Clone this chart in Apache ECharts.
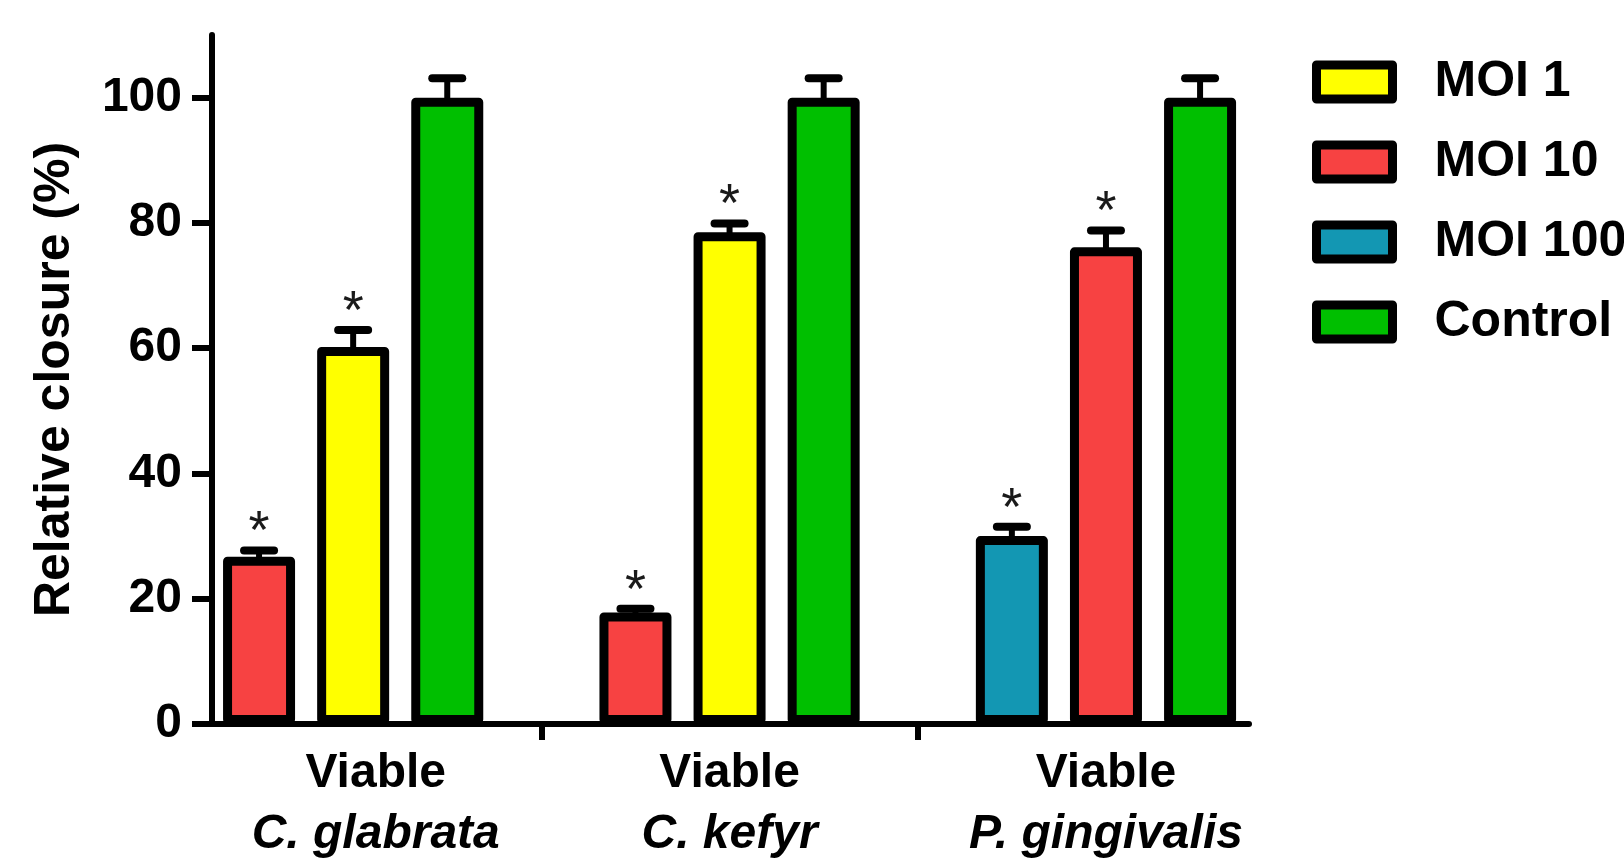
<!DOCTYPE html>
<html>
<head>
<meta charset="utf-8">
<title>Relative closure</title>
<script src="https://cdn.jsdelivr.net/npm/echarts@6/dist/echarts.min.js"></script>
<style>
  html, body { margin: 0; padding: 0; background: #ffffff; }
  #chart { width: 1624px; height: 865px; }
</style>
</head>
<body>
<div id="chart"></div>
<script>
// Strains on the x axis (one group of three bars each)
const groups = ['C. glabrata', 'C. kefyr', 'P. gingivalis'];
const groupPrefix = 'Viable';

// Legend entries and their fills
const conditions = ['MOI 1', 'MOI 10', 'MOI 100', 'Control'];
const conditionColors = ['#FFFF00', '#F74242', '#1397B3', '#00BF00'];

// Bars in drawing order, left to right
const barGroup     = [0, 0, 0, 1, 1, 1, 2, 2, 2];
const barCondition = ['MOI 10', 'MOI 1', 'Control',
                      'MOI 10', 'MOI 1', 'Control',
                      'MOI 100', 'MOI 10', 'Control'];
const barMean = [26.7, 60.2, 100, 17.8, 78.5, 100, 30.0, 76.1, 100];
const barSem  = [1.0, 2.7, 3.1, 0.6, 1.4, 3.1, 1.5, 2.7, 3.1];
const barStar = [1, 1, 0, 1, 1, 0, 1, 1, 0];

// Y axis ticks
const yTicks = [0, 20, 40, 60, 80, 100];

const FONT = '"Liberation Sans", Arial, Helvetica, sans-serif';

// Each group takes four slots on the x axis: three bars and a gap.
const slotsPerGroup = 4;
const barX = barGroup.map((g, i) => {
  const slot = barGroup.slice(0, i).filter(v => v === g).length;
  return g * slotsPerGroup + slot + 1;
});
const groupDividers = groups.slice(1).map((_, g) => (g + 1) * slotsPerGroup);
const groupLabelX = [2.24, 6, 10];

const barSeries = conditions.map((name, ci) => ({
  name: name,
  type: 'bar',
  barWidth: 72,
  barGap: '-100%',
  itemStyle: {
    color: conditionColors[ci],
    borderColor: '#000000',
    borderWidth: 9,
    borderJoin: 'round'
  },
  emphasis: { disabled: true },
  z: 2,
  data: barCondition
    .map((c, i) => (c === name ? [barX[i], barMean[i]] : null))
    .filter(d => d !== null)
}));

// Upper SEM whiskers with their significance marks
const errorSeries = {
  name: 'SEM',
  type: 'custom',
  z: 3,
  data: barMean.map((m, i) => [barX[i], m, barSem[i], barStar[i]]),
  encode: { x: 0, y: 1 },
  renderItem: function (params, api) {
    const x = api.value(0);
    const m = api.value(1);
    const e = api.value(2);
    const star = api.value(3);
    const base = api.coord([x, m]);
    const cap = api.coord([x, m + e]);
    const children = [
      { type: 'line',
        shape: { x1: base[0], y1: base[1] + 4, x2: base[0], y2: cap[1] },
        style: { stroke: '#000', lineWidth: 6 } },
      { type: 'line',
        shape: { x1: base[0] - 15, y1: cap[1], x2: base[0] + 15, y2: cap[1] },
        style: { stroke: '#000', lineWidth: 8, lineCap: 'round' } }
    ];
    if (star) {
      children.push({
        type: 'text',
        x: base[0],
        y: cap[1] - 17,
        style: {
          text: '*',
          fill: '#1a1a1a',
          font: 'normal 54px ' + FONT,
          textAlign: 'center',
          textVerticalAlign: 'middle'
        }
      });
    }
    return { type: 'group', children: children };
  }
};

const chart = echarts.init(document.getElementById('chart'), null, { renderer: 'canvas' });

chart.setOption({
  animation: false,
  backgroundColor: '#ffffff',
  grid: {
    left: 212,
    right: 375,
    top: 35,
    bottom: 141,
    outerBoundsMode: 'none'
  },
  legend: {
    data: conditions,
    orient: 'vertical',
    left: 1312,
    top: 57,
    padding: 0,
    itemWidth: 76,
    itemHeight: 34,
    itemGap: 30,
    icon: 'rect',
    selectedMode: false,
    itemStyle: { borderColor: '#000000', borderWidth: 9, borderJoin: 'round' },
    textStyle: {
      color: '#000000',
      fontFamily: FONT,
      fontWeight: 'bold',
      fontSize: 50,
      lineHeight: 34,
      padding: [0, 0, 0, 37]
    }
  },
  xAxis: {
    type: 'value',
    min: 0.5,
    max: 11.52,
    splitLine: { show: false },
    axisLine: { show: true, onZero: false, lineStyle: { color: '#000', width: 6 } },
    axisTick: {
      show: true,
      customValues: groupDividers,
      length: 16,
      lineStyle: { color: '#000', width: 6 }
    },
    axisLabel: {
      show: true,
      customValues: groupLabelX,
      margin: 19,
      formatter: function (value) {
        const idx = groupLabelX.indexOf(value);
        if (idx < 0) return '';
        return '{a|' + groupPrefix + '}\n{b|' + groups[idx] + '}';
      },
      rich: {
        a: { fontFamily: FONT, fontWeight: 'bold', fontSize: 48, lineHeight: 61, color: '#000' },
        b: { fontFamily: FONT, fontWeight: 'bold', fontStyle: 'italic', fontSize: 48, lineHeight: 61, color: '#000' }
      }
    }
  },
  yAxis: {
    type: 'value',
    min: 0,
    max: 110,
    interval: 20,
    name: 'Relative closure (%)',
    nameLocation: 'middle',
    nameGap: 132,
    nameTextStyle: {
      fontFamily: FONT,
      fontWeight: 'bold',
      fontSize: 50,
      color: '#000'
    },
    splitLine: { show: false },
    axisLine: { show: true, lineStyle: { color: '#000', width: 6 } },
    axisTick: {
      show: true,
      customValues: yTicks,
      length: 20,
      lineStyle: { color: '#000', width: 6 }
    },
    axisLabel: {
      customValues: yTicks,
      margin: 30,
      fontFamily: FONT,
      fontWeight: 'bold',
      fontSize: 48,
      color: '#000'
    }
  },
  series: barSeries.concat([errorSeries])
});
</script>
</body>
</html>
